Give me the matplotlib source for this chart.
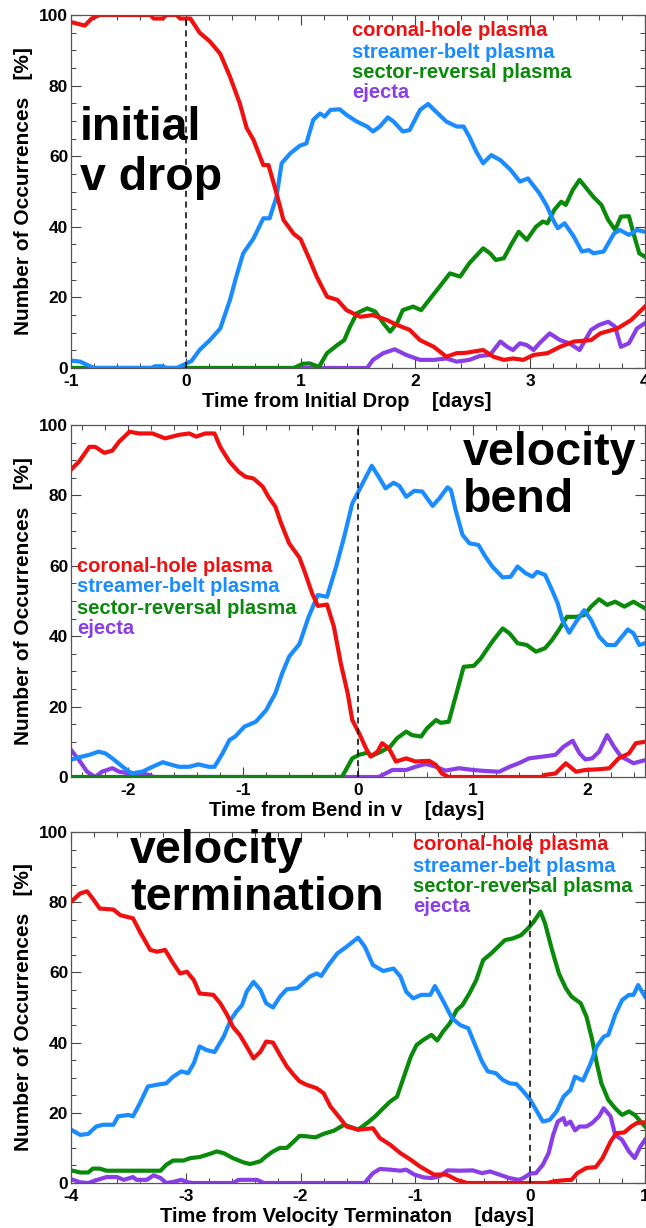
import matplotlib
matplotlib.use("Agg")
import matplotlib.pyplot as plt
from matplotlib.ticker import MultipleLocator

plt.rcParams['font.family'] = ['Liberation Sans', 'DejaVu Sans']
plt.rcParams['font.weight'] = 'bold'
plt.rcParams['axes.unicode_minus'] = False

RED, BLUE, GREEN, PURPLE = '#f01010', '#1a8cff', '#0a8a0a', '#8a3ee6'
names = ['coronal-hole plasma', 'streamer-belt plasma', 'sector-reversal plasma', 'ejecta']

# ---- panel 1 : initial v drop
p1_red_t = [-1.0, -0.88, -0.82, -0.75, -0.31, -0.28, -0.20, -0.17, -0.08, -0.05, 0.04, 0.12, 0.21, 0.30, 0.385, 0.47, 0.53, 0.59, 0.675, 0.72, 0.79, 0.85, 0.94, 1.0, 1.08, 1.14, 1.23, 1.32, 1.40, 1.52, 1.63, 1.75, 1.84, 1.95, 2.04, 2.16, 2.27, 2.36, 2.44, 2.59, 2.68, 2.77, 2.85, 2.94, 3.03, 3.15, 3.26, 3.38, 3.53, 3.61, 3.76, 3.88, 4.0]
p1_red_v = [98, 97, 99, 100, 100, 99, 99, 100, 100, 99, 99, 95, 92.5, 89, 82.5, 75, 68, 64.6, 57.5, 57.5, 49.5, 42, 38, 36.5, 30.6, 25.9, 20.2, 19.3, 16.4, 14.5, 15, 13.6, 12.2, 10.8, 7.9, 6.0, 3.2, 4.2, 4.3, 5.1, 3.2, 2.3, 2.7, 2.3, 3.7, 4.2, 6.0, 7.5, 7.9, 9.8, 11.2, 13.6, 17.4]
p1_blue_t = [-1.0, -0.92, -0.84, -0.80, -0.30, -0.27, -0.20, -0.17, -0.08, 0.0, 0.05, 0.12, 0.21, 0.30, 0.385, 0.44, 0.50, 0.59, 0.675, 0.73, 0.79, 0.835, 0.91, 0.995, 1.05, 1.11, 1.17, 1.21, 1.26, 1.34, 1.40, 1.49, 1.58, 1.63, 1.69, 1.76, 1.81, 1.89, 1.95, 2.04, 2.11, 2.18, 2.27, 2.36, 2.42, 2.47, 2.53, 2.59, 2.66, 2.74, 2.83, 2.91, 2.98, 3.08, 3.14, 3.20, 3.24, 3.30, 3.38, 3.45, 3.51, 3.55, 3.64, 3.73, 3.78, 3.86, 3.93, 4.0]
p1_blue_v = [2.1, 1.8, 0.6, 0, 0, 0.5, 0.5, 0, 0, 1.2, 2, 5.1, 7.9, 11.2, 19.3, 25.9, 32.5, 36.7, 42.4, 42.4, 48.5, 58, 60.8, 63, 63.6, 70.3, 72.1, 71.2, 73.1, 73.3, 71.7, 69.8, 68.4, 67, 68.4, 71, 69.8, 67, 67.4, 73.1, 74.8, 72.6, 69.8, 68.4, 68.4, 65.5, 61.3, 58, 60.3, 58.9, 56.1, 52.8, 53.7, 49.5, 46.2, 41.9, 39.6, 41, 37.2, 33, 33.4, 32.5, 33, 38.1, 39.1, 37.7, 39.1, 38.6]
p1_green_t = [-1.0, 0.94, 1.02, 1.08, 1.16, 1.23, 1.32, 1.38, 1.43, 1.49, 1.58, 1.65, 1.72, 1.78, 1.84, 1.89, 1.98, 2.05, 2.12, 2.21, 2.30, 2.39, 2.47, 2.55, 2.59, 2.65, 2.70, 2.77, 2.84, 2.90, 2.97, 3.05, 3.11, 3.15, 3.21, 3.27, 3.31, 3.37, 3.43, 3.49, 3.55, 3.62, 3.68, 3.74, 3.79, 3.86, 3.90, 3.95, 4.0]
p1_green_v = [0, 0, 1.2, 1.3, 0.3, 4.2, 6.5, 7.9, 11.7, 15.5, 16.9, 16, 12.7, 10.3, 12.7, 16.4, 17.4, 16.4, 19.3, 23, 26.8, 25.9, 29.7, 32.5, 33.9, 32.5, 30.6, 31.1, 35.3, 38.6, 36.3, 40, 41.5, 41, 44.8, 47.1, 46.2, 50.4, 53.3, 50.9, 48.5, 46.2, 41.9, 39.1, 42.9, 43, 38.1, 32.5, 31.5]
p1_purple_t = [-1.0, 1.58, 1.63, 1.72, 1.82, 1.92, 2.04, 2.16, 2.27, 2.36, 2.47, 2.56, 2.65, 2.74, 2.80, 2.85, 2.91, 2.97, 3.03, 3.08, 3.17, 3.26, 3.34, 3.43, 3.53, 3.60, 3.68, 3.74, 3.79, 3.86, 3.93, 4.0]
p1_purple_v = [0, 0, 2.3, 4.2, 5.3, 3.7, 2.3, 2.3, 2.7, 1.8, 2.3, 3.4, 3.7, 7.5, 6.0, 5.1, 7.0, 6.5, 5.1, 7.0, 9.8, 7.9, 7.0, 5.1, 10.8, 12.2, 13.1, 11.7, 6.0, 7.0, 11.2, 12.7]

# ---- panel 2 : velocity bend
p2_red_t = [-2.51, -2.43, -2.34, -2.29, -2.21, -2.14, -2.08, -1.99, -1.91, -1.79, -1.68, -1.56, -1.47, -1.41, -1.33, -1.25, -1.20, -1.12, -1.04, -0.98, -0.91, -0.83, -0.78, -0.72, -0.67, -0.60, -0.51, -0.46, -0.40, -0.35, -0.27, -0.21, -0.15, -0.09, -0.05, 0.01, 0.07, 0.11, 0.17, 0.21, 0.27, 0.33, 0.42, 0.50, 0.62, 0.68, 0.73, 0.79, 1.60, 1.63, 1.72, 1.81, 1.90, 1.98, 2.10, 2.19, 2.27, 2.36, 2.42, 2.50]
p2_red_v = [87, 89.6, 93.8, 93.8, 92.1, 92.7, 95.3, 98.1, 97.6, 97.6, 96.2, 97.2, 97.6, 96.7, 97.6, 97.6, 93.8, 89.6, 86.7, 85.3, 84.8, 82.5, 79.6, 76.8, 72.1, 66.4, 62.3, 57.9, 52.2, 48.6, 49, 42.7, 32.3, 23.8, 16.2, 12.4, 8.1, 5.8, 7.2, 9.6, 8.1, 4.4, 5.3, 4.4, 4.6, 3.4, 1.0, 0, 0, 0.6, 1, 3.9, 1.5, 2, 2.2, 2.5, 5.3, 6.7, 9.6, 10]
p2_blue_t = [-2.51, -2.43, -2.34, -2.26, -2.20, -2.14, -2.05, -1.97, -1.88, -1.79, -1.70, -1.65, -1.56, -1.47, -1.39, -1.30, -1.25, -1.18, -1.12, -1.07, -0.99, -0.89, -0.80, -0.72, -0.66, -0.60, -0.51, -0.43, -0.35, -0.27, -0.19, -0.12, -0.05, 0.01, 0.07, 0.12, 0.18, 0.24, 0.31, 0.36, 0.42, 0.49, 0.56, 0.65, 0.71, 0.78, 0.81, 0.85, 0.91, 0.97, 1.05, 1.11, 1.17, 1.26, 1.33, 1.39, 1.46, 1.52, 1.56, 1.63, 1.69, 1.74, 1.78, 1.84, 1.90, 1.97, 2.03, 2.10, 2.17, 2.24, 2.30, 2.35, 2.40, 2.45, 2.50]
p2_blue_v = [4.8, 5.6, 6.3, 7.2, 6.7, 5.3, 2.9, 1.0, 1.5, 2.9, 4.2, 3.7, 2.9, 2.9, 3.6, 2.9, 2.9, 6.7, 10.5, 11.5, 14.3, 15.7, 19, 23.8, 29.5, 34.2, 37.8, 45.5, 51.7, 51.2, 59.8, 68.3, 77.7, 81.5, 85.3, 88.4, 85.3, 82, 83.6, 82.7, 79.6, 81.3, 81.1, 77, 79.2, 82.3, 81.5, 75.9, 68.8, 66.4, 65.9, 62.6, 59.8, 56.7, 56.9, 59.8, 57.9, 56.9, 58.3, 57.4, 53.1, 49.3, 44.6, 41, 44.1, 47.4, 44.6, 39.9, 37.5, 37.5, 39.9, 41.9, 40.8, 37.5, 38]
p2_green_t = [-2.51, -0.14, -0.05, 0.01, 0.08, 0.12, 0.20, 0.28, 0.34, 0.42, 0.47, 0.55, 0.60, 0.68, 0.72, 0.79, 0.85, 0.92, 1.01, 1.07, 1.13, 1.18, 1.26, 1.32, 1.39, 1.47, 1.55, 1.63, 1.69, 1.75, 1.82, 1.90, 1.97, 2.03, 2.10, 2.17, 2.24, 2.32, 2.40, 2.50]
p2_green_v = [0, 0, 5.3, 6.3, 6.9, 6.0, 7.2, 8.6, 11, 12.9, 11.9, 11.5, 13.8, 16.2, 15.4, 15.7, 22.8, 31.3, 31.6, 33.7, 36.6, 38.9, 42.2, 40.8, 38, 37.5, 35.6, 36.6, 38.9, 41.8, 45.5, 45.5, 46, 48.4, 50.5, 48.9, 49.8, 48.4, 49.8, 47.9]
p2_purple_t = [-2.51, -2.43, -2.36, -2.29, -2.23, -2.14, -2.08, -1.99, -1.91, -1.82, -1.78, 0.18, 0.24, 0.30, 0.42, 0.50, 0.59, 0.68, 0.76, 0.88, 1.00, 1.11, 1.23, 1.32, 1.40, 1.49, 1.61, 1.72, 1.79, 1.87, 1.93, 1.98, 2.04, 2.10, 2.17, 2.23, 2.29, 2.35, 2.40, 2.50]
p2_purple_v = [8.1, 4.8, 1.5, 0, 1.5, 2.5, 1.5, 1.0, 1.2, 0.6, 0, 0, 1, 2, 2, 2.9, 3.7, 2.9, 1.8, 2.5, 2, 1.7, 1.5, 2.9, 3.9, 5.3, 5.8, 6.3, 8.6, 10.3, 6.7, 5.0, 5.3, 7.2, 11.9, 8.6, 5.8, 4.8, 3.9, 4.8]

# ---- panel 3 : velocity termination
p3_red_t = [-4.0, -3.92, -3.86, -3.81, -3.75, -3.63, -3.57, -3.46, -3.40, -3.31, -3.25, -3.18, -3.11, -3.05, -2.99, -2.93, -2.88, -2.76, -2.70, -2.64, -2.59, -2.53, -2.47, -2.41, -2.35, -2.30, -2.24, -2.18, -2.12, -2.06, -2.01, -1.95, -1.86, -1.80, -1.74, -1.67, -1.60, -1.50, -1.37, -1.31, -1.22, -1.13, -1.04, -0.96, -0.84, -0.73, -0.64, -0.55, 0.15, 0.21, 0.30, 0.36, 0.41, 0.49, 0.57, 0.63, 0.70, 0.75, 0.82, 0.88, 0.93, 1.0]
p3_red_v = [80.1, 82.5, 83.1, 81, 78.2, 77.9, 76.3, 75.4, 71.6, 66.4, 65.9, 66.4, 62.6, 59.7, 60.2, 57.8, 54, 53.6, 51.2, 47.9, 44.5, 42.2, 38.9, 35.5, 37.4, 40.3, 40, 36.5, 33.2, 30.8, 29, 28, 27, 25.6, 21.8, 19, 16.1, 15.2, 15.6, 12.8, 10.9, 8.5, 6.6, 4.7, 2.4, 2.4, 0.9, 0, 0, 0.5, 0.8, 0.9, 2.8, 4.3, 4.5, 7.1, 11.8, 14.2, 14.4, 16.1, 17.1, 17.3]
p3_blue_t = [-4.0, -3.92, -3.85, -3.78, -3.72, -3.63, -3.59, -3.50, -3.46, -3.40, -3.33, -3.25, -3.17, -3.11, -3.04, -2.98, -2.93, -2.88, -2.82, -2.75, -2.67, -2.61, -2.56, -2.51, -2.47, -2.41, -2.35, -2.30, -2.24, -2.18, -2.12, -2.03, -1.98, -1.92, -1.86, -1.82, -1.76, -1.68, -1.60, -1.50, -1.44, -1.37, -1.28, -1.19, -1.13, -1.08, -1.02, -0.95, -0.87, -0.83, -0.77, -0.68, -0.61, -0.54, -0.48, -0.42, -0.37, -0.30, -0.24, -0.18, -0.12, -0.06, 0.00, 0.05, 0.11, 0.17, 0.23, 0.29, 0.35, 0.39, 0.46, 0.52, 0.58, 0.64, 0.68, 0.74, 0.80, 0.86, 0.90, 0.94, 1.0]
p3_blue_v = [15.2, 13.7, 14, 16.1, 16.6, 16.6, 19, 19.4, 19, 22.7, 27.5, 28, 28.4, 30.3, 31.8, 31.3, 34.1, 38.9, 37.9, 37.3, 41.7, 46.4, 48.8, 50.7, 54.5, 57.3, 55, 51.2, 50, 53.1, 55.2, 55.5, 56.9, 58.8, 59.7, 59, 62, 65.4, 67.3, 69.9, 67.3, 62.1, 60.4, 61.1, 58.8, 54.5, 52.6, 53.6, 53.6, 56.1, 52.6, 46.9, 45, 44.1, 39.3, 34.6, 31.8, 31.3, 29.4, 28.4, 28.2, 26.1, 23.7, 20.9, 17.5, 18, 20.4, 24.6, 26.5, 30.3, 29.2, 33.6, 38.9, 41.7, 42.2, 47.9, 52.1, 53.6, 53.6, 56.4, 53.1]
p3_green_t = [-4.0, -3.92, -3.85, -3.81, -3.75, -3.69, -3.22, -3.17, -3.11, -3.02, -2.96, -2.88, -2.79, -2.73, -2.67, -2.59, -2.50, -2.44, -2.35, -2.30, -2.24, -2.18, -2.12, -2.06, -2.01, -1.95, -1.87, -1.80, -1.71, -1.62, -1.50, -1.42, -1.35, -1.28, -1.22, -1.16, -1.10, -1.04, -0.99, -0.93, -0.86, -0.81, -0.76, -0.70, -0.64, -0.59, -0.53, -0.47, -0.41, -0.34, -0.28, -0.22, -0.15, -0.08, -0.02, 0.03, 0.09, 0.13, 0.19, 0.25, 0.31, 0.36, 0.44, 0.49, 0.54, 0.58, 0.62, 0.68, 0.74, 0.80, 0.86, 0.91, 1.0]
p3_green_v = [3.6, 3.0, 3.0, 4.1, 4.1, 3.5, 3.5, 5.2, 6.4, 6.4, 7.1, 7.4, 8.3, 9.0, 8.5, 7.1, 5.9, 5.4, 6.2, 7.6, 9.0, 10, 10, 11.8, 13.4, 13.3, 13, 14, 14.9, 16.6, 15.2, 17.1, 19, 21.3, 23.2, 24.6, 30.3, 36, 39.3, 40.8, 42.2, 40.6, 43.1, 45.5, 49.3, 50.7, 54, 57.8, 63.5, 65.4, 67.3, 69.2, 69.7, 70.6, 72.5, 74.4, 77.3, 73.9, 66.4, 59.7, 55.5, 53.1, 51.2, 47.4, 40.8, 34.1, 28.4, 23.7, 21.3, 19.4, 20.4, 19.4, 16.1]
p3_purple_t = [-4.0, -3.92, -3.85, -3.78, -3.69, -3.60, -3.54, -3.46, -3.43, -3.34, -3.28, -3.22, -3.17, -3.11, -3.04, -2.98, -2.94, -2.59, -2.54, -2.38, -2.32, -1.44, -1.42, -1.37, -1.31, -1.22, -1.13, -1.08, -1.01, -0.93, -0.86, -0.79, -0.72, -0.61, -0.50, -0.42, -0.35, -0.27, -0.18, -0.10, -0.06, 0.00, 0.05, 0.11, 0.16, 0.20, 0.24, 0.29, 0.31, 0.35, 0.39, 0.43, 0.49, 0.54, 0.60, 0.64, 0.70, 0.74, 0.80, 0.86, 0.91, 0.96, 1.0]
p3_purple_v = [1.1, 0.2, 0, 0.8, 1.7, 1.7, 0.9, 1.7, 0.9, 0.9, 2.2, 1.4, 0, 0.3, 0.9, 0.2, 0, 0, 0.9, 0.9, 0, 0, 0.9, 2.8, 4.0, 3.8, 3.5, 3.8, 2.4, 1.6, 1.4, 1.9, 3.6, 3.5, 3.6, 2.8, 3.3, 2.4, 1.4, 0.9, 1.4, 2.7, 2.8, 5.2, 8.5, 13.7, 17.5, 18.5, 16.6, 17.5, 15, 16.1, 16.1, 17.1, 19, 21.3, 19, 13.7, 12.3, 9.0, 7.1, 10.4, 12.3]

W, H = 646, 1228
fig = plt.figure(figsize=(W / 100, H / 100), dpi=100)


def px(x, y):
    return x / W, 1 - y / H


def panel(top, bottom, xlim, xlabel, curves):
    ax = fig.add_axes([71 / W, 1 - bottom / H, (645 - 71) / W, (bottom - top) / H])
    for t, v, c in curves:
        ax.plot(t, v, color=c, lw=3.0, solid_joinstyle='round')
    ax.axvline(0, color='black', ls='--', lw=1.1, dashes=(4, 3), zorder=5)
    ax.set_xlim(*xlim)
    ax.set_ylim(0, 100)
    ax.xaxis.set_major_locator(MultipleLocator(1))
    ax.xaxis.set_minor_locator(MultipleLocator(0.2))
    ax.yaxis.set_major_locator(MultipleLocator(20))
    ax.yaxis.set_minor_locator(MultipleLocator(5))
    ax.tick_params(which='both', direction='in', top=True, right=True, labelsize=12.5, color='#444444')
    ax.tick_params(axis='y', pad=2)
    ax.tick_params(axis='x', pad=4)
    ax.tick_params(which='major', length=7, width=0.8)
    ax.tick_params(which='minor', length=3.5, width=0.7)
    for s in ax.spines.values():
        s.set_color('#555555')
        s.set_linewidth(0.9)
    for lab in ax.get_xticklabels() + ax.get_yticklabels():
        lab.set_fontweight('bold')
    ax.set_ylabel('Number of Occurrences   [%]', fontsize=15, fontweight='bold')
    ax.yaxis.set_label_coords(-0.066, 0.5)
    ax.set_xlabel(xlabel, fontsize=14.5, fontweight='bold')
    ax.xaxis.set_label_coords(0.481, -0.096)
    ax.xaxis.label.set_va('center')
    return ax


panel(15, 368, (-1, 4), 'Time from Initial Drop    [days]',
      [(p1_purple_t, p1_purple_v, PURPLE), (p1_green_t, p1_green_v, GREEN),
       (p1_blue_t, p1_blue_v, BLUE), (p1_red_t, p1_red_v, RED)])
panel(425, 777, (-2.5, 2.5), 'Time from Bend in v    [days]',
      [(p2_purple_t, p2_purple_v, PURPLE), (p2_green_t, p2_green_v, GREEN),
       (p2_blue_t, p2_blue_v, BLUE), (p2_red_t, p2_red_v, RED)])
panel(832, 1183, (-4, 1), 'Time from Velocity Terminaton    [days]',
      [(p3_purple_t, p3_purple_v, PURPLE), (p3_green_t, p3_green_v, GREEN),
       (p3_blue_t, p3_blue_v, BLUE), (p3_red_t, p3_red_v, RED)])

# legends written as coloured text
colors = [RED, BLUE, GREEN, PURPLE]
for x0, ys in [(352, [31, 52, 72, 92]), (77, [566, 587, 608, 628]), (413, [845, 866, 887, 907])]:
    for name, c, y in zip(names, colors, ys):
        fig.text(*px(x0, y), name, color=c, fontsize=14.5, fontweight='bold', va='center', ha='left', zorder=10)

# big event labels
for x0, lines in [(80, [('initial', 140), ('v drop', 190)]),
                  (463, [('velocity', 465), ('bend', 512)]),
                  (130, [('velocity', 863), ('termination', 910)])]:
    for s, yb in lines:
        fig.text(*px(x0, yb), s, fontsize=33.5, fontweight='bold', va='baseline', ha='left', color='black', zorder=10)

fig.savefig('out.png', dpi=100)
